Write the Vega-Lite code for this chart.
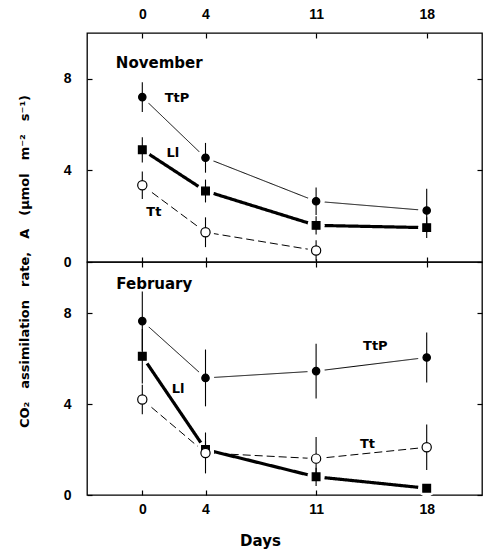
{
  "$schema": "https://vega.github.io/schema/vega-lite/v6.json",
  "background": "white",
  "padding": {"left": 17, "top": 6, "right": 2, "bottom": 3},
  "spacing": 0,
  "bounds": "flush",
  "config": {
    "view": {"stroke": "black", "strokeWidth": 1.3},
    "axis": {"domain": false, "grid": false, "tickColor": "black", "tickWidth": 1.2, "labelColor": "black", "labelFont": "Liberation Sans", "labelFontWeight": "bold", "labelFontSize": 14, "labelFlush": false, "titleColor": "black", "titleFont": "DejaVu Sans", "titleFontWeight": "bold", "titleFontSize": 13},
    "text": {"font": "DejaVu Sans", "fontWeight": "bold", "fontSize": 13, "color": "black"}
  },
  "datasets": {
    "nov": [
      {"series": "TtP", "day": 0, "A": 7.2, "err": 0.65},
      {"series": "TtP", "day": 4, "A": 4.55, "err": 0.65},
      {"series": "TtP", "day": 11, "A": 2.65, "err": 0.6},
      {"series": "TtP", "day": 18, "A": 2.25, "err": 0.95},
      {"series": "Ll", "day": 0, "A": 4.9, "err": 0.55},
      {"series": "Ll", "day": 4, "A": 3.1, "err": 0.5},
      {"series": "Ll", "day": 11, "A": 1.6, "err": 0.4},
      {"series": "Ll", "day": 18, "A": 1.5, "err": 0.45},
      {"series": "Tt", "day": 0, "A": 3.35, "err": 0.6},
      {"series": "Tt", "day": 4, "A": 1.3, "err": 0.65},
      {"series": "Tt", "day": 11, "A": 0.5, "err": 0.45}
    ],
    "feb": [
      {"series": "TtP", "day": 0, "A": 7.65, "err": 1.3},
      {"series": "TtP", "day": 4, "A": 5.15, "err": 1.25},
      {"series": "TtP", "day": 11, "A": 5.45, "err": 1.2},
      {"series": "TtP", "day": 18, "A": 6.05, "err": 1.1},
      {"series": "Ll", "day": 0, "A": 6.1, "err": 1.2},
      {"series": "Ll", "day": 4, "A": 2.0, "err": 0.4},
      {"series": "Ll", "day": 11, "A": 0.8, "err": 0.4},
      {"series": "Ll", "day": 18, "A": 0.3, "err": 0},
      {"series": "Tt", "day": 0, "A": 4.2, "err": 0.65},
      {"series": "Tt", "day": 4, "A": 1.85, "err": 0.9},
      {"series": "Tt", "day": 11, "A": 1.6, "err": 0.95},
      {"series": "Tt", "day": 18, "A": 2.1, "err": 1.0}
    ],
    "novlab": [
      {"t": "November", "day": 1.07, "A": 8.7},
      {"t": "TtP", "day": 2.2, "A": 7.15},
      {"t": "Ll", "day": 1.93, "A": 4.75},
      {"t": "Tt", "day": 0.73, "A": 2.2}
    ],
    "feblab": [
      {"t": "February", "day": 0.76, "A": 9.3},
      {"t": "TtP", "day": 14.75, "A": 6.55},
      {"t": "Ll", "day": 2.27, "A": 4.65},
      {"t": "Tt", "day": 14.25, "A": 2.25}
    ]
  },
  "vconcat": [
    {
      "width": 395,
      "height": 229,
      "data": {"name": "nov"},
      "layer": [
        {
          "mark": {"type": "line", "color": "black"},
          "encoding": {
            "x": {"field": "day", "type": "quantitative", "scale": {"domain": [-3.5, 21.5], "nice": false, "zero": false}, "axis": {"orient": "bottom", "values": [0, 4, 11, 18], "labels": false, "tickSize": -5, "title": null}},
            "y": {"field": "A", "type": "quantitative", "scale": {"domain": [0, 10], "nice": false}, "axis": {"orient": "left", "values": [0, 4, 8], "labels": false, "tickSize": -5, "title": null}},
            "detail": {"field": "series"},
            "strokeWidth": {"field": "series", "type": "nominal", "scale": {"type": "ordinal", "domain": ["TtP", "Ll", "Tt"], "range": [1, 3.2, 1]}, "legend": null},
            "strokeDash": {"field": "series", "type": "nominal", "scale": {"domain": ["TtP", "Ll", "Tt"], "range": [[1, 0], [1, 0], [8, 4]]}, "legend": null}
          }
        },
        {
          "mark": {"type": "circle", "fill": "white", "strokeWidth": 0, "opacity": 1, "fillOpacity": 1, "size": 300},
          "encoding": {
            "x": {"field": "day", "type": "quantitative", "scale": {"domain": [-3.5, 21.5], "nice": false, "zero": false}, "axis": {"orient": "top", "values": [0, 4, 11, 18], "labels": false, "tickSize": -5, "title": null}},
            "y": {"field": "A", "type": "quantitative", "scale": {"domain": [0, 10], "nice": false}, "axis": {"orient": "right", "values": [0, 4, 8], "labels": false, "tickSize": -5, "title": null}}
          }
        },
        {
          "mark": {"type": "errorbar", "ticks": false, "color": "black", "thickness": 1.1},
          "encoding": {
            "x": {"field": "day", "type": "quantitative", "axis": null},
            "y": {"field": "A", "type": "quantitative", "axis": null},
            "yError": {"field": "err"}
          }
        },
        {
          "mark": {"type": "point", "filled": true, "opacity": 1, "stroke": "black", "strokeWidth": 1.2},
          "encoding": {
            "x": {"field": "day", "type": "quantitative", "scale": {"domain": [-3.5, 21.5], "nice": false, "zero": false}, "axis": {"orient": "top", "values": [0, 4, 11, 18], "ticks": false, "labelPadding": 12, "title": null}},
            "y": {"field": "A", "type": "quantitative", "scale": {"domain": [0, 10], "nice": false}, "axis": {"orient": "left", "values": [0, 4, 8], "ticks": false, "labelPadding": 16, "title": "CO\u2082\u2003assimilation\u2003rate,\u2003A\u2003(\u00b5mol\u2003m\u207b\u00b2\u2003s\u207b\u00b9)", "titleX": -56, "titleY": 228, "titleAngle": 270, "titleAlign": "center", "titleBaseline": "bottom"}},
            "shape": {"field": "series", "type": "nominal", "scale": {"domain": ["TtP", "Ll", "Tt"], "range": ["circle", "square", "circle"]}, "legend": null},
            "fill": {"field": "series", "type": "nominal", "scale": {"domain": ["TtP", "Ll", "Tt"], "range": ["black", "black", "white"]}, "legend": null},
            "size": {"field": "series", "type": "nominal", "scale": {"type": "ordinal", "domain": ["TtP", "Ll", "Tt"], "range": [55, 60, 85]}, "legend": null}
          }
        },
        {
          "data": {"name": "novlab"},
          "mark": {"type": "text", "align": "center", "baseline": "middle"},
          "encoding": {
            "x": {"field": "day", "type": "quantitative", "axis": null},
            "y": {"field": "A", "type": "quantitative", "axis": null},
            "text": {"field": "t"},
            "size": {"condition": {"test": "datum.t === 'November'", "value": 15}, "value": 13}
          }
        }
      ],
      "resolve": {"axis": {"x": "independent", "y": "independent"}}
    },
    {
      "width": 395,
      "height": 233,
      "data": {"name": "feb"},
      "layer": [
        {
          "mark": {"type": "line", "color": "black"},
          "encoding": {
            "x": {"field": "day", "type": "quantitative", "scale": {"domain": [-3.5, 21.5], "nice": false, "zero": false}, "axis": {"orient": "top", "values": [0, 4, 11, 18], "labels": false, "tickSize": -5, "title": null}},
            "y": {"field": "A", "type": "quantitative", "scale": {"domain": [0, 10.25], "nice": false}, "axis": {"orient": "left", "values": [0, 4, 8], "labels": false, "tickSize": -5, "title": null}},
            "detail": {"field": "series"},
            "strokeWidth": {"field": "series", "type": "nominal", "scale": {"type": "ordinal", "domain": ["TtP", "Ll", "Tt"], "range": [1, 3.2, 1]}, "legend": null},
            "strokeDash": {"field": "series", "type": "nominal", "scale": {"domain": ["TtP", "Ll", "Tt"], "range": [[1, 0], [1, 0], [8, 4]]}, "legend": null}
          }
        },
        {
          "mark": {"type": "circle", "fill": "white", "strokeWidth": 0, "opacity": 1, "fillOpacity": 1, "size": 300},
          "encoding": {
            "x": {"field": "day", "type": "quantitative", "scale": {"domain": [-3.5, 21.5], "nice": false, "zero": false}, "axis": {"orient": "bottom", "values": [0, 4, 11, 18], "labels": false, "tickSize": -5, "title": null}},
            "y": {"field": "A", "type": "quantitative", "scale": {"domain": [0, 10.25], "nice": false}, "axis": {"orient": "right", "values": [0, 4, 8], "labels": false, "tickSize": -5, "title": null}}
          }
        },
        {
          "mark": {"type": "errorbar", "ticks": false, "color": "black", "thickness": 1.1},
          "encoding": {
            "x": {"field": "day", "type": "quantitative", "axis": null},
            "y": {"field": "A", "type": "quantitative", "axis": null},
            "yError": {"field": "err"}
          }
        },
        {
          "mark": {"type": "point", "filled": true, "opacity": 1, "stroke": "black", "strokeWidth": 1.2},
          "encoding": {
            "x": {"field": "day", "type": "quantitative", "scale": {"domain": [-3.5, 21.5], "nice": false, "zero": false}, "axis": {"orient": "bottom", "values": [0, 4, 11, 18], "ticks": false, "labelPadding": 7, "title": "Days", "titleFont": "DejaVu Sans", "titleFontSize": 15, "titlePadding": 17, "titleX": 173, "titleAlign": "center"}},
            "y": {"field": "A", "type": "quantitative", "scale": {"domain": [0, 10.25], "nice": false}, "axis": {"orient": "left", "values": [0, 4, 8], "ticks": false, "labelPadding": 16, "title": null}},
            "shape": {"field": "series", "type": "nominal", "scale": {"domain": ["TtP", "Ll", "Tt"], "range": ["circle", "square", "circle"]}, "legend": null},
            "fill": {"field": "series", "type": "nominal", "scale": {"domain": ["TtP", "Ll", "Tt"], "range": ["black", "black", "white"]}, "legend": null},
            "size": {"field": "series", "type": "nominal", "scale": {"type": "ordinal", "domain": ["TtP", "Ll", "Tt"], "range": [55, 60, 85]}, "legend": null}
          }
        },
        {
          "data": {"name": "feblab"},
          "mark": {"type": "text", "align": "center", "baseline": "middle"},
          "encoding": {
            "x": {"field": "day", "type": "quantitative", "axis": null},
            "y": {"field": "A", "type": "quantitative", "axis": null},
            "text": {"field": "t"},
            "size": {"condition": {"test": "datum.t === 'February'", "value": 15}, "value": 13}
          }
        }
      ],
      "resolve": {"axis": {"x": "independent", "y": "independent"}}
    }
  ]
}
